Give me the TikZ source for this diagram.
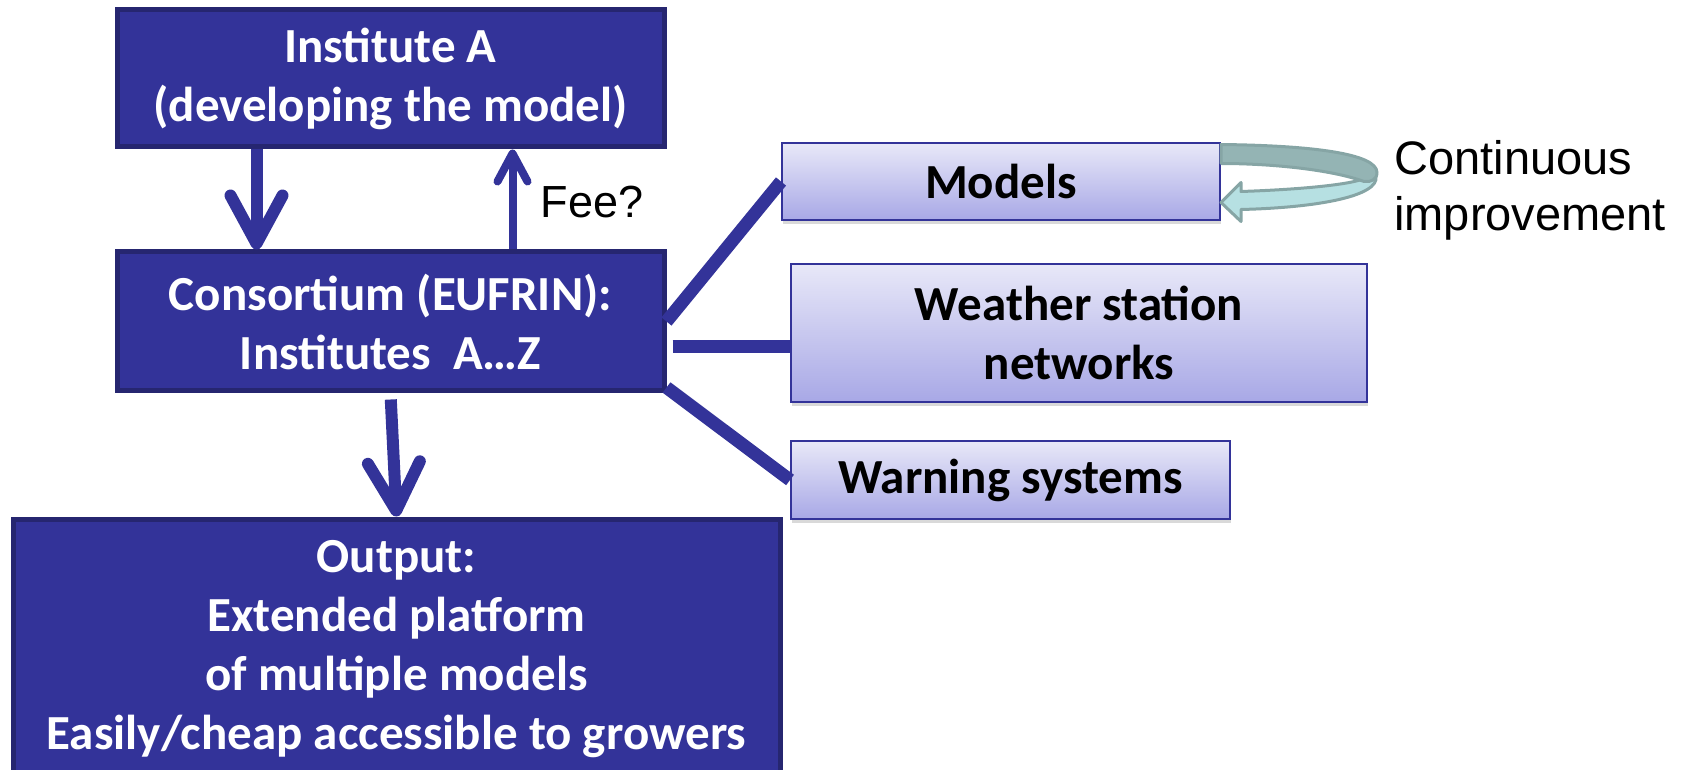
\documentclass[tikz,border=0pt]{standalone}
\usepackage{fontspec}
\setmainfont{Carlito}
\newfontfamily\arial{Liberation Sans}
\usetikzlibrary{arrows.meta,shadows}
\definecolor{navy}{RGB}{51,51,153}
\definecolor{navyline}{RGB}{38,38,112}
\definecolor{lilactop}{RGB}{232,232,248}
\definecolor{lilacbot}{RGB}{168,168,230}
\definecolor{loopdark}{RGB}{148,180,180}
\definecolor{looplight}{RGB}{182,224,226}
\definecolor{loopline}{RGB}{134,165,165}

\begin{document}
\begin{tikzpicture}[x=0.5pt,y=-0.5pt,
    darkbox/.style={draw=navyline, line width=2.5pt, fill=navy, text=white, font=\bfseries\fontsize{24.5}{29.5}\selectfont, align=center, inner sep=0pt},
    lightbox/.style={draw=navy, line width=1pt, top color=lilactop, bottom color=lilacbot, font=\bfseries\fontsize{24.5}{29.5}\selectfont, align=center, inner sep=0pt, drop shadow={opacity=0.3, shadow xshift=0.5pt, shadow yshift=-2pt}},
    link/.style={navy, line width=6.5pt},
    bigarrow/.style={navy, line width=6pt, -{Straight Barb[length=24pt,width=26pt,round]}},
    feearrow/.style={navy, line width=4pt, -{Straight Barb[length=14pt,width=15pt,round]}},
    loopband/.style={draw=loopline, line width=1.5pt, line join=round}]
        \useasboundingbox (0,0) rectangle (1688,770);
        \clip (0,0) rectangle (1688,770);

        \node[darkbox, minimum width=273.5pt, minimum height=68.5pt] (inst) at (390.5,78.5) {Institute A\\(developing the model)};
        \node[darkbox, minimum width=273.5pt, minimum height=69.5pt] (cons) at (390.5,321.5) {Consortium (EUFRIN):\\Institutes~~A…Z};
        \node[darkbox, minimum width=383.5pt, minimum height=130.5pt] (out) at (396.5,649.5) {Output:\\Extended platform\\of multiple models\\Easily/cheap accessible to growers};

        \node[lightbox, minimum width=219pt, minimum height=38.5pt] (models) at (1001,181.5) {Models};
        \node[lightbox, minimum width=288pt, minimum height=69pt] (weather) at (1079,333) {Weather station\\networks};
        \node[lightbox, minimum width=219.5pt, minimum height=39pt] (warn) at (1010.5,480) {Warning systems};

        \node[font=\arial\fontsize{22.5}{27}\selectfont, inner sep=0pt] (fee) at (592,202) {Fee?};
        \node[font=\arial\fontsize{23.5}{28}\selectfont, align=left, anchor=west, inner sep=0pt] (cont) at (1394,190) {Continuous\\improvement};

        \draw[bigarrow] ([xshift=-67pt]inst.south) -- ([xshift=-67pt]cons.north);
        \draw[feearrow] ([xshift=61pt]cons.north) -- ([xshift=61pt]inst.south);
        \draw[bigarrow, shorten <=3pt] (cons.south) -- (out.north);

        \draw[link] (cons.east) -- (models.west);
        \draw[link] ([xshift=3pt,yshift=-12.75pt]cons.east) -- ([yshift=-12.75pt]cons.east -| weather.west);
        \draw[link] ([yshift=3pt]cons.south east) -- (warn.west);

        \begin{scope}[shift={(models.east)}]
            \filldraw[loopband, fill=looplight] (150,-8) -- (155,-5) .. controls (158,14) and (100,26) .. (20,28) -- (20,40) -- (0,21) -- (20,1) -- (20,10) .. controls (80,8) and (130,3) .. (143,-3) -- cycle;
            \filldraw[loopband, fill=loopdark] (0,-37) .. controls (90,-36) and (156,-28) .. (156,-9) .. controls (156,-2) and (150,1) .. (143,0) .. controls (110,-12) and (50,-18) .. (0,-18) -- cycle;
        \end{scope}

    \end{tikzpicture}
\end{document}
